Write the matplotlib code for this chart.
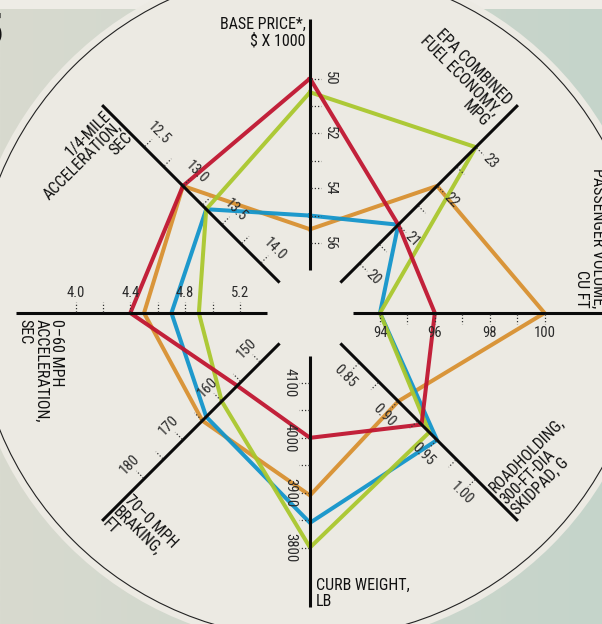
import numpy as np
import matplotlib
matplotlib.use('Agg')
import matplotlib.pyplot as plt
from matplotlib import font_manager
from matplotlib.patches import Circle, Rectangle

# pick a narrow face if one is around
installed = {f.name for f in font_manager.fontManager.ttflist}
narrow = next((n for n in ['Roboto Condensed', 'Liberation Sans Narrow',
                           'DejaVu Sans Condensed', 'Open Sans Condensed']
               if n in installed), 'DejaVu Sans')
plt.rcParams['font.family'] = [narrow, 'DejaVu Sans']
plt.rcParams['font.stretch'] = 'condensed'

# spokes, clockwise from the top
axis_angles = [90, 45, 0, -45, -90, -135, 180, 135]
axis_inner = [56, 20, 94, 0.85, 4100, 150, 5.2, 14.0]   # value at the inner tick
axis_outer = [50, 23, 100, 1.00, 3800, 180, 4.0, 12.5]  # value at the outer tick
tick_labels = [
    ['56', '54', '52', '50'],
    ['20', '21', '22', '23'],
    ['94', '96', '98', '100'],
    ['0.85', '0.90', '0.95', '1.00'],
    ['4100', '4000', '3900', '3800'],
    ['150', '160', '170', '180'],
    ['5.2', '4.8', '4.4', '4.0'],
    ['14.0', '13.5', '13.0', '12.5'],
]
label_rot = [-90, -45, 0, -45, -90, 45, 0, -45]
titles = [
    'BASE PRICE*,\n$ X 1000',
    'EPA COMBINED\nFUEL ECONOMY,\nMPG',
    'PASSENGER VOLUME,\nCU FT',
    'ROADHOLDING,\n300-FT-DIA\nSKIDPAD, G',
    'CURB WEIGHT,\nLB',
    '70–0 MPH\nBRAKING,\nFT',
    '0–60 MPH\nACCELERATION,\nSEC',
    '1/4-MILE\nACCELERATION,\nSEC',
]

# price, mpg, volume, skidpad, weight, braking, 0-60, 1/4 mile
red_vals = [50.0, 21.0, 96, 0.93, 4000, 156, 4.4, 13.0]
green_vals = [50.5, 23.0, 94, 0.94, 3800, 160, 4.9, 13.3]
blue_vals = [55.0, 21.0, 94, 0.95, 3845, 164, 4.7, 13.3]
orange_vals = [55.5, 22.0, 100, 0.90, 3895, 165, 4.5, 13.0]

series = [(orange_vals, '#d8902f'), (blue_vals, '#1194cb'),
          (green_vals, '#a9c72c'), (red_vals, '#c0142f')]

CX, CY = 310, 313
R_IN, R_OUT = 70, 234.5      # radius of inner / outer tick
R0, R1 = 43, 294             # spoke extent


def radius(i, v):
    return R_IN + (v - axis_inner[i]) / (axis_outer[i] - axis_inner[i]) * (R_OUT - R_IN)


def point(i, r, side=0.0):
    a = np.radians(axis_angles[i])
    x = CX + r * np.cos(a) + side * np.sin(a)
    y = CY - r * np.sin(a) + side * np.cos(a)
    return x, y


fig = plt.figure(figsize=(6.02, 6.24), dpi=100)
ax = fig.add_axes([0, 0, 1, 1])
ax.set_xlim(0, 602)
ax.set_ylim(624, 0)
ax.set_axis_off()

# page background
grad = np.linspace(0, 1, 256)[None, :, None]
left_c = np.array([216, 218, 207]) / 255
right_c = np.array([197, 212, 202]) / 255
ax.imshow(left_c + grad * (right_c - left_c), extent=(0, 602, 624, 0),
          aspect='auto', zorder=0)
ax.add_patch(Rectangle((0, 0), 602, 9, color='#eeece6', zorder=1, lw=0))
ax.add_patch(Circle((310, 303.5), 342, color='#eceae3', zorder=1, lw=0))
ax.add_patch(Circle((310, 303.5), 335, fill=False, ec='#222222', lw=0.8, zorder=2))
ax.text(3, 12, '5', fontsize=32, fontweight='bold', ha='right', va='top',
        color='#111111', zorder=2)

# series
for vals, col in series:
    pts = [point(i, radius(i, v)) for i, v in enumerate(vals)]
    pts.append(pts[0])
    xs, ys = zip(*pts)
    ax.plot(xs, ys, color=col, lw=2.9, alpha=0.94, solid_joinstyle='miter',
            zorder=4)

# spokes, ticks, labels
for i in range(len(axis_angles)):
    x0, y0 = point(i, R0)
    x1, y1 = point(i, R1)
    ax.plot([x0, x1], [y0, y1], color='#0a0a0a', lw=2.2, solid_capstyle='butt',
            zorder=5)
    tick_vals = np.linspace(axis_inner[i], axis_outer[i], 7)
    for k, tv in enumerate(tick_vals):
        r = radius(i, tv)
        ta, tb = point(i, r, 1), point(i, r, 11)
        ax.plot([ta[0], tb[0]], [ta[1], tb[1]], color='#333333', lw=0.9,
                ls=(0, (1, 1.6)), zorder=5)
        if k % 2 == 0:
            lx, ly = point(i, r, 20)
            ax.text(lx, ly, tick_labels[i][k // 2], fontsize=10.5, color='#2a2a2a',
                    rotation=label_rot[i], rotation_mode='anchor',
                    ha='center', va='center', zorder=6)

title_pos = [(306, 17), (514, 97), (605, 308), (487, 485),
             (316, 578), (132, 493), (64, 319), (103, 108)]
title_rot = [0, -45, -90, 45, 0, -45, -90, 45]
title_ha = ['right', 'right', 'right', 'left', 'left', 'left', 'left', 'right']
for t, (tx, ty), rot, ha in zip(titles, title_pos, title_rot, title_ha):
    ax.text(tx, ty, t, fontsize=11.5, color='#111111', rotation=rot,
            rotation_mode='anchor', ha=ha, va='top', multialignment=ha,
            linespacing=1.05, zorder=6)

fig.savefig('out.png', dpi=100)
